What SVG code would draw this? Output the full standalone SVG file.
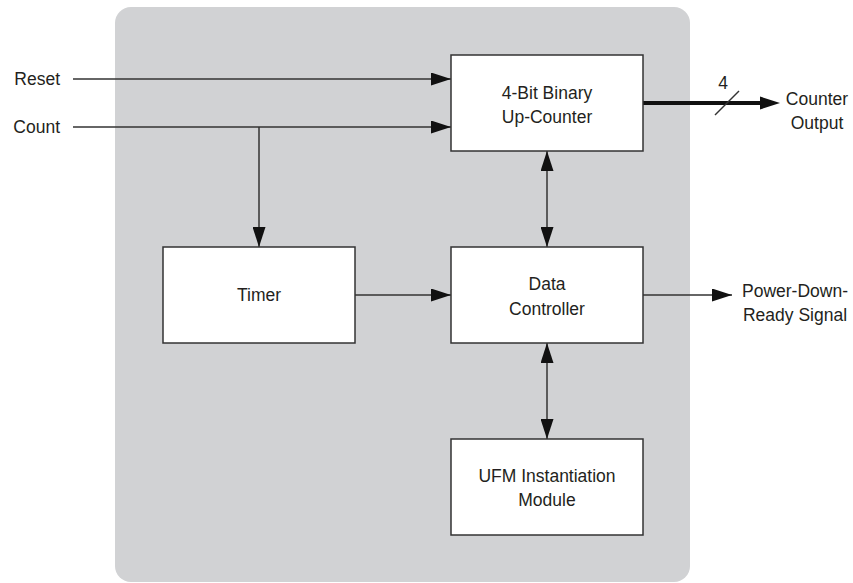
<svg xmlns="http://www.w3.org/2000/svg" width="853" height="583" viewBox="0 0 853 583">
<style>
.box{fill:#ffffff;stroke:#333333;stroke-width:1.5}
.ln{fill:none;stroke:#333333;stroke-width:1.5}
.bus{fill:none;stroke:#111111;stroke-width:4}
text{font-family:"Liberation Sans",Arial,sans-serif;font-size:17.5px;fill:#231f20}
.c{text-anchor:middle}
.r{text-anchor:end}
</style>
<defs>
<marker id="ah" markerUnits="userSpaceOnUse" markerWidth="20" markerHeight="13" refX="20" refY="6.5" orient="auto-start-reverse" viewBox="0 0 20 13">
<path d="M0,0 L20,6.5 L0,13 z" fill="#111111"/>
</marker>
</defs>
<rect id="panel" x="115" y="7" width="575" height="575" rx="16" fill="#d1d2d4"/>
<g id="connectors">
<line class="ln" x1="73" y1="79" x2="451" y2="79" marker-end="url(#ah)"/>
<line class="ln" x1="73" y1="127" x2="451" y2="127" marker-end="url(#ah)"/>
<polyline class="ln" points="259,127 259,247" marker-end="url(#ah)"/>
<line class="ln" x1="355" y1="295" x2="451" y2="295" marker-end="url(#ah)"/>
<line class="ln" x1="547" y1="151" x2="547" y2="247" marker-start="url(#ah)" marker-end="url(#ah)"/>
<line class="ln" x1="547" y1="343" x2="547" y2="439" marker-start="url(#ah)" marker-end="url(#ah)"/>
<line class="ln" x1="643" y1="295" x2="732" y2="295" marker-end="url(#ah)"/>
<line class="bus" x1="643" y1="103" x2="762" y2="103"/>
<path d="M760,96.5 L780,103 L760,109.5 z" fill="#111111"/>
<line class="ln" x1="715" y1="115" x2="739" y2="91"/>
<text x="723" y="89" class="c">4</text>
</g>
<g id="counter">
<rect class="box" x="451" y="55" width="192" height="96"/>
<text x="547" y="99" class="c">4-Bit Binary</text>
<text x="547" y="123" class="c">Up-Counter</text>
</g>
<g id="timer">
<rect class="box" x="163" y="247" width="192" height="96"/>
<text x="259" y="301" class="c">Timer</text>
</g>
<g id="datacontroller">
<rect class="box" x="451" y="247" width="192" height="96"/>
<text x="547" y="290" class="c">Data</text>
<text x="547" y="315" class="c">Controller</text>
</g>
<g id="ufm">
<rect class="box" x="451" y="439" width="192" height="96"/>
<text x="547" y="482" class="c">UFM Instantiation</text>
<text x="547" y="506" class="c">Module</text>
</g>
<g id="labels">
<text x="60" y="85" class="r">Reset</text>
<text x="60" y="133" class="r">Count</text>
<text x="817" y="105" class="c">Counter</text>
<text x="817" y="129" class="c">Output</text>
<text x="795" y="297" class="c">Power-Down-</text>
<text x="795" y="321" class="c">Ready Signal</text>
</g>
</svg>
